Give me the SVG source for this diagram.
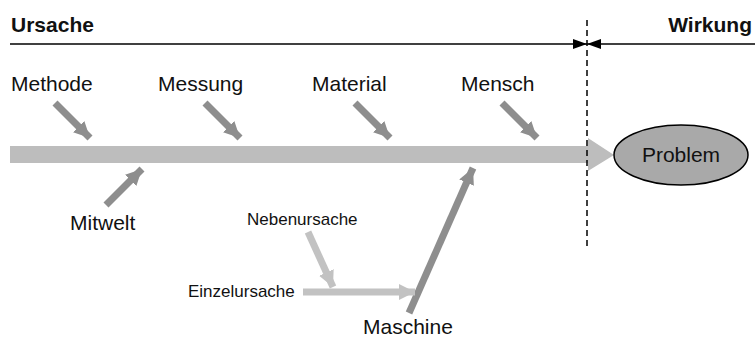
<svg xmlns="http://www.w3.org/2000/svg" width="755" height="338" viewBox="0 0 755 338">
<style>
.lbl{font-family:"Liberation Sans",Arial,sans-serif;font-size:21px;fill:#111}
.sm{font-family:"Liberation Sans",Arial,sans-serif;font-size:17px;fill:#111}
.hd{font-family:"Liberation Sans",Arial,sans-serif;font-size:21px;font-weight:bold;fill:#111}
.dk{stroke:#8e8e8e;stroke-width:7;fill:none}
.lt{stroke:#c2c2c2;stroke-width:7;fill:none}
</style>
<defs>
<marker id="ad" markerUnits="userSpaceOnUse" viewBox="0 0 16 16" refX="16" refY="8" markerWidth="16" markerHeight="16" orient="auto"><path d="M0,0 L16,8 L0,16 Z" fill="#8e8e8e"/></marker>
<marker id="al" markerUnits="userSpaceOnUse" viewBox="0 0 16 16" refX="16" refY="8" markerWidth="16" markerHeight="16" orient="auto"><path d="M0,0 L16,8 L0,16 Z" fill="#c2c2c2"/></marker>
<marker id="ab" markerUnits="userSpaceOnUse" viewBox="0 0 14 10" refX="14" refY="5" markerWidth="14" markerHeight="10" orient="auto"><path d="M0,0 L14,5 L0,10 Z" fill="#000"/></marker>
</defs>
<g id="header">
<text class="hd" x="11" y="32">Ursache</text>
<text class="hd" x="752" y="32" text-anchor="end">Wirkung</text>
</g>
<g id="spine">
<rect x="10" y="146" width="580" height="17" fill="#bdbdbd"/>
<polygon points="588,138 614,155 588,171" fill="#bdbdbd"/>
</g>
<g id="problem">
<ellipse cx="681" cy="155" rx="67" ry="30" fill="#a9a9a9" stroke="#000" stroke-width="1.5"/>
<text class="lbl" x="681" y="162" text-anchor="middle">Problem</text>
</g>
<g id="methode"><text class="lbl" x="11" y="91">Methode</text></g>
<g id="messung"><text class="lbl" x="158" y="91">Messung</text></g>
<g id="material"><text class="lbl" x="312" y="91">Material</text></g>
<g id="mensch"><text class="lbl" x="461" y="91">Mensch</text></g>
<g id="mitwelt"><text class="lbl" x="70" y="230">Mitwelt</text></g>
<g id="maschine"><text class="lbl" x="363" y="334">Maschine</text></g>
<g id="nebenursache"><text class="sm" x="247" y="225">Nebenursache</text></g>
<g id="einzelursache"><text class="sm" x="188" y="297">Einzelursache</text></g>
<g id="connectors">
<line x1="10" y1="44" x2="587" y2="44" stroke="#000" stroke-width="1.5" marker-end="url(#ab)"/>
<line x1="755" y1="44" x2="587" y2="44" stroke="#000" stroke-width="1.5" marker-end="url(#ab)"/>
<line x1="587" y1="20" x2="587" y2="250" stroke="#000" stroke-width="1.5" stroke-dasharray="6,4"/>
<line class="dk" x1="55" y1="103" x2="90" y2="138" marker-end="url(#ad)"/>
<line class="dk" x1="205" y1="103" x2="240" y2="138" marker-end="url(#ad)"/>
<line class="dk" x1="355" y1="103" x2="390" y2="138" marker-end="url(#ad)"/>
<line class="dk" x1="502" y1="103" x2="537" y2="138" marker-end="url(#ad)"/>
<line class="dk" x1="106" y1="205" x2="142" y2="169" marker-end="url(#ad)"/>
<line class="dk" x1="409" y1="313" x2="473" y2="168" marker-end="url(#ad)"/>
<line class="lt" x1="308" y1="232" x2="333" y2="287" marker-end="url(#al)"/>
<line class="lt" x1="303" y1="292" x2="415" y2="292" marker-end="url(#al)"/>
</g>
</svg>
